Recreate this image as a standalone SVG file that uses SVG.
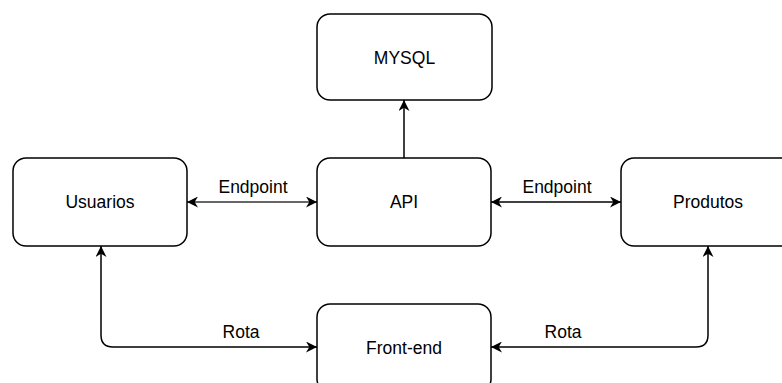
<svg xmlns="http://www.w3.org/2000/svg" width="782" height="383" viewBox="0 0 782 383">
<style>
.box{fill:#fff;stroke:#000;stroke-width:1.5}
.t{font-family:"Liberation Sans",Arial,sans-serif;font-size:17.5px;fill:#000;text-anchor:middle;dominant-baseline:central}
.c{fill:none;stroke:#000;stroke-width:1.5}
</style>
<defs>
<marker id="ah" viewBox="0 0 10 10" refX="10" refY="5" markerWidth="11" markerHeight="11" markerUnits="userSpaceOnUse" orient="auto-start-reverse">
<path d="M0,0 L10,5 L0,10 L3,5 Z" fill="#000"/>
</marker>
</defs>
<rect width="782" height="383" fill="#fff"/>
<g id="connectors">
<path class="c" d="M404,158 L404,100" marker-end="url(#ah)"/>
<path d="M187,202 L317,202" fill="none" stroke="#666" stroke-width="2.2" marker-start="url(#ah)" marker-end="url(#ah)"/>
<path class="c" d="M491,202 L621,202" marker-start="url(#ah)" marker-end="url(#ah)"/>
<path class="c" d="M101,246 L101,335 Q101,347 113,347 L317,347" marker-start="url(#ah)" marker-end="url(#ah)"/>
<path class="c" d="M708,246 L708,335 Q708,347 696,347 L491,347" marker-start="url(#ah)" marker-end="url(#ah)"/>
<text class="t" x="253" y="187">Endpoint</text>
<text class="t" x="557" y="187">Endpoint</text>
<text class="t" x="241" y="332">Rota</text>
<text class="t" x="563" y="332">Rota</text>
</g>
<g id="mysql"><rect class="box" x="317" y="14" width="175" height="86" rx="13"/><text class="t" x="404.5" y="58">MYSQL</text></g>
<g id="usuarios"><rect class="box" x="13" y="158" width="174" height="88" rx="13"/><text class="t" x="100" y="202">Usuarios</text></g>
<g id="api"><rect class="box" x="317" y="158" width="174" height="88" rx="13"/><text class="t" x="404" y="202">API</text></g>
<g id="produtos"><rect class="box" x="621" y="158" width="175" height="88" rx="13"/><text class="t" x="708" y="202">Produtos</text></g>
<g id="frontend"><rect class="box" x="317" y="304" width="174" height="88" rx="13"/><text class="t" x="404" y="348">Front-end</text></g>
</svg>
